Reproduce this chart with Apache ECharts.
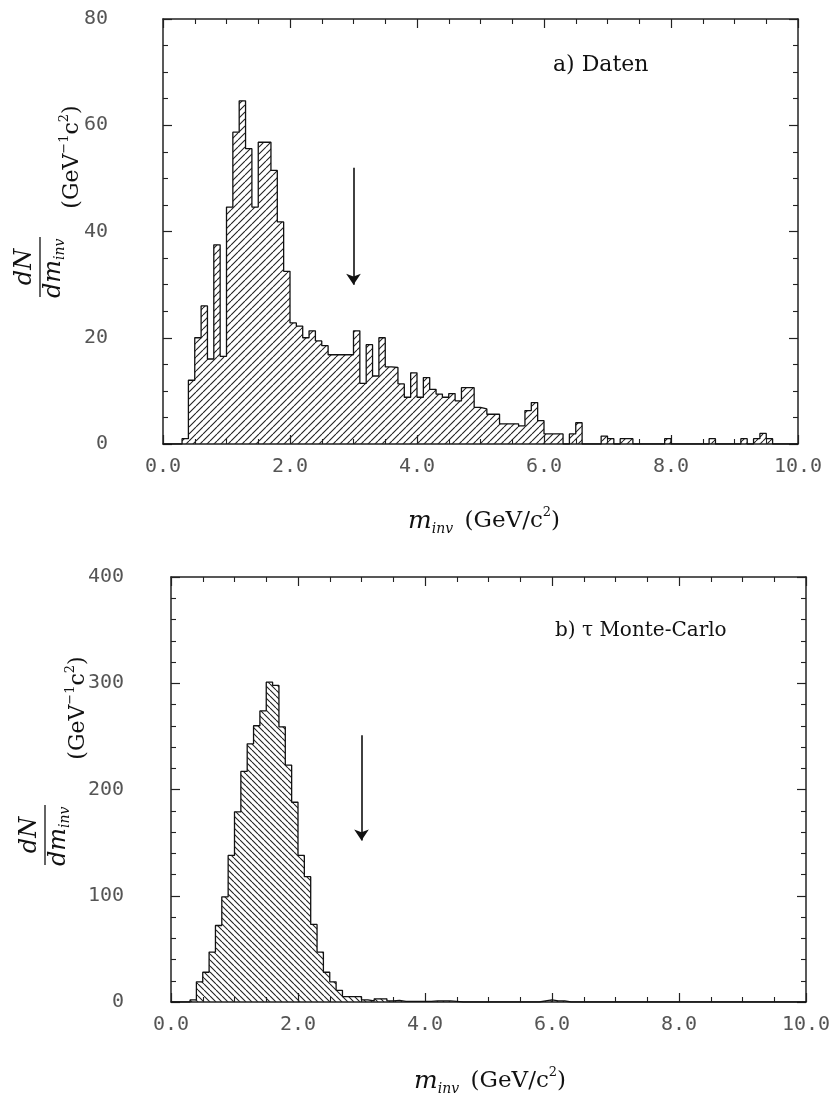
<!DOCTYPE html>
<html><head><meta charset="utf-8">
<script src="https://cdn.jsdelivr.net/npm/echarts@6/dist/echarts.min.js"></script>
<style>html,body{margin:0;padding:0;background:#fff}#c{width:838px;height:1108px}</style>
</head><body><div id="c"></div>
<script>
// ---- data ----
const binWidth = 0.1;              // GeV/c^2, 100 bins from 0 to 10
const xTickLabels = ['0.0','2.0','4.0','6.0','8.0','10.0'];
// a) Daten : dN/dm_inv per bin
const datenCounts = [
  0,0,0,1,12,20,26,16,37.5,16.5,
  44.6,58.7,64.6,55.6,44.6,56.8,56.8,51.5,41.8,32.5,
  22.8,22.2,20,21.3,19.4,18.5,16.8,16.8,16.8,16.8,
  21.3,11.4,18.7,12.8,20,14.5,14.4,11.3,8.8,13.4,
  8.8,12.5,10.3,9.4,8.8,9.5,8.1,10.6,10.6,6.9,
  6.6,5.6,5.6,3.8,3.8,3.8,3.4,6.3,7.8,4.4,
  1.9,1.9,1.9,0,1.9,4,0,0,0,1.5,
  1,0,1,1,0,0,0,0,0,1,
  0,0,0,0,0,0,1,0,0,0,
  0,1,0,1,2,1,0,0,0,0
];
// b) tau Monte-Carlo
const mcCounts = [
  0,0,0,2,19,28,47,72,99,138,
  179,217,243,260,274,301,298,259,223,188,
  138,118,73,47,28,19,11,5,5,5,
  2,1,3,3,1,1.5,0.5,0.5,0.5,0.5,
  0.5,1,1,1,0.5,0,0,0,0,0,
  0,0,0,0,0,0,0,0,1,2,
  1,1,0,0,0,0,0,0,0,0,
  0,0,0,0,0,0,0,0,0,0,
  0,0,0,0,0,0,0,0,0,0,
  0,0,0,0,0,0,0,0,0,0
];
const cutValue = 3.0;              // arrow position (GeV/c^2)
const datenArrow = [52, 30];       // arrow from / to (dN/dm)
const mcArrow = [251, 152];
const panelLabels = ['a) Daten', 'b) \u03c4 Monte-Carlo'];

// ---- helpers ----
function stepData(counts){
  const pts = counts.map((v,i)=>[+(i*binWidth).toFixed(2), v]);
  pts.push([+(counts.length*binWidth).toFixed(2), 0]);
  return pts;
}
function hatch(spacing, dir){
  const c = document.createElement('canvas');
  c.width = spacing; c.height = spacing;
  const g = c.getContext('2d');
  g.strokeStyle = '#222'; g.lineWidth = 1.1;
  g.beginPath();
  for (let k=-1;k<=1;k++){
    if (dir === '/'){ g.moveTo(k*spacing, spacing); g.lineTo(k*spacing+spacing, 0); }
    else { g.moveTo(k*spacing, 0); g.lineTo(k*spacing+spacing, spacing); }
  }
  g.stroke();
  return {image: c, repeat: 'repeat'};
}
const axisCol = '#222';
const labelFont = {fontFamily:'DejaVu Sans Mono', fontSize:20, color:'#555'};
function xAx(grid, pos){
  return {type:'value', gridIndex:grid, position:pos, min:0, max:10, interval:2,
    axisLine:{show:true, onZero:false, lineStyle:{color:axisCol, width:1.5}},
    axisTick:{show:true, inside:true, length:9, lineStyle:{color:axisCol, width:1.2}},
    minorTick:{show:true, splitNumber:4, length:5, lineStyle:{color:axisCol, width:1.1}},
    splitLine:{show:false},
    axisLabel: pos==='bottom' ? Object.assign({show:true, margin:13,
      formatter:(v)=>xTickLabels[Math.round(v/2)]}, labelFont) : {show:false}};
}
function yAx(grid, pos, max, interval, minorSplit, margin){
  return {type:'value', gridIndex:grid, position:pos, min:0, max:max, interval:interval,
    axisLine:{show:true, onZero:false, lineStyle:{color:axisCol, width:1.5}},
    axisTick:{show:true, inside:true, length:9, lineStyle:{color:axisCol, width:1.2}},
    minorTick:{show:true, splitNumber:minorSplit, length:5, lineStyle:{color:axisCol, width:1.1}},
    splitLine:{show:false},
    axisLabel: pos==='left' ? Object.assign({show:true, margin:margin}, labelFont) : {show:false}};
}
function histSeries(counts, xi, yi, pattern, arrow){
  return {type:'line', xAxisIndex:xi, yAxisIndex:yi, step:'end', symbol:'none',
    data: stepData(counts), silent:true,
    lineStyle:{color:'#111', width:1.3},
    areaStyle:{color:pattern, opacity:1},
    markLine:{silent:true, symbol:['none','arrow'], symbolSize:11,
      label:{show:false},
      lineStyle:{color:'#111', width:1.6, type:'solid'},
      data:[[{coord:[cutValue, arrow[0]]},{coord:[cutValue, arrow[1]]}]]}};
}
const serif = 'DejaVu Serif';
const richUnits = {
  p:{fontFamily:serif, fontSize:22, fill:'#111', lineHeight:28},
  s:{fontFamily:serif, fontSize:13, fill:'#111', verticalAlign:'top'}
};
function yTitle(cx, cy, gx, gy){
  return [
    {type:'group', x:cx, y:cy, rotation:Math.PI/2, children:[
      {type:'text', x:0, y:-3, style:{text:'dN', fontFamily:serif, fontStyle:'italic', fontSize:24, fill:'#111', align:'center', verticalAlign:'bottom'}},
      {type:'line', shape:{x1:-30, y1:0, x2:30, y2:0}, style:{stroke:'#111', lineWidth:1.3}},
      {type:'text', x:7, y:2, style:{text:'dm', fontFamily:serif, fontStyle:'italic', fontSize:24, fill:'#111', align:'right', verticalAlign:'top'}},
      {type:'text', x:7, y:13, style:{text:'inv', fontFamily:serif, fontStyle:'italic', fontSize:14, fill:'#111', align:'left', verticalAlign:'top'}}
    ]},
    {type:'text', x:gx, y:gy, rotation:Math.PI/2, style:{
      text:'{p|(GeV}{s|\u22121}{p|c}{s|2}{p|)}', rich:richUnits, align:'center', verticalAlign:'middle'}}
  ];
}
function xTitle(x, y){
  return {type:'text', x:x, y:y, style:{
    text:'{m|m}{i|inv}{p|\u2002(GeV/c}{s|2}{p|)}',
    rich:{
      m:{fontFamily:serif, fontStyle:'italic', fontSize:25, fill:'#111', lineHeight:30},
      i:{fontFamily:serif, fontStyle:'italic', fontSize:14, fill:'#111', verticalAlign:'bottom'},
      p:{fontFamily:serif, fontSize:23, fill:'#111'},
      s:{fontFamily:serif, fontSize:13, fill:'#111', verticalAlign:'top'}
    }, align:'left', verticalAlign:'middle'}};
}

const chart = echarts.init(document.getElementById('c'), null, {renderer:'canvas'});
chart.setOption({
  animation:false,
  backgroundColor:'#fff',
  grid:[{left:163, top:19, width:635, height:425},
        {left:171, top:577, width:635, height:425}],
  xAxis:[xAx(0,'bottom'), xAx(0,'top'), xAx(1,'bottom'), xAx(1,'top')],
  yAxis:[yAx(0,'left',80,20,4,55), yAx(0,'right',80,20,4,0),
         yAx(1,'left',400,100,5,47), yAx(1,'right',400,100,5,0)],
  series:[
    histSeries(datenCounts, 0, 0, hatch(7,'/'), datenArrow),
    histSeries(mcCounts, 2, 2, hatch(6,'\\'), mcArrow)
  ],
  graphic:[
    {type:'text', left:553, top:54, style:{text:panelLabels[0], fontFamily:serif, fontSize:22, fill:'#111'}},
    {type:'text', left:555, top:621, style:{text:panelLabels[1], fontFamily:serif, fontSize:20, fill:'#111'}},
    ...yTitle(40, 267, 72, 157),
    ...yTitle(45, 835, 78, 708),
    xTitle(408, 521),
    xTitle(414, 1081)
  ]
});
</script></body></html>
